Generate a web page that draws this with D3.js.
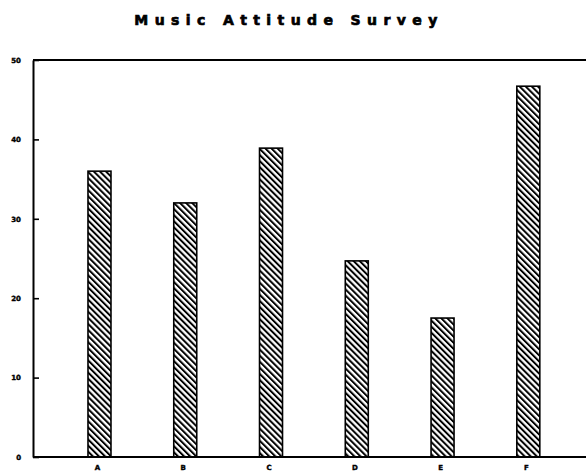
<!DOCTYPE html>
<html>
<head>
<meta charset="utf-8">
<script src="https://cdn.jsdelivr.net/npm/d3@7"></script>
<style>
  body { margin: 0; background: #fff; }
  text { font-family: "DejaVu Sans", Arial, sans-serif; font-weight: bold; fill: #000; }
</style>
</head>
<body>
<div id="chart"></div>
<script>
// data
var categories = ["A", "B", "C", "D", "E", "F"];
var values = [36, 32, 38.9, 24.7, 17.5, 46.7];
var yTicks = [0, 10, 20, 30, 40, 50];

var svgWidth = 586;
var svgHeight = 473;

var svg = d3.select("#chart")
  .append("svg")
  .attr("width", svgWidth)
  .attr("height", svgHeight);

// hatch fill
var defs = svg.append("defs");
defs.append("pattern")
  .attr("id", "hatch")
  .attr("patternUnits", "userSpaceOnUse")
  .attr("width", 4.3)
  .attr("height", 10)
  .attr("patternTransform", "rotate(-45)")
  .append("line")
  .attr("x1", 1).attr("y1", 0)
  .attr("x2", 1).attr("y2", 10)
  .attr("stroke", "#000")
  .attr("stroke-width", 2);

var axisX = 33;
var plotTop = 60;
var plotBottom = 457;

var x = d3.scaleBand()
  .domain(categories)
  .range([56.6, 571.2])
  .paddingInner(0.732)
  .paddingOuter(0.366);

var y = d3.scaleLinear()
  .domain([0, 50])
  .range([plotBottom, plotTop]);

// title
svg.append("text")
  .attr("x", 289)
  .attr("y", 25)
  .attr("text-anchor", "middle")
  .attr("font-size", 14)
  .attr("letter-spacing", 6.4)
  .attr("stroke", "#000")
  .attr("stroke-width", 0.7)
  .text("Music Attitude Survey");

// frame lines
svg.append("line")
  .attr("x1", axisX).attr("x2", svgWidth)
  .attr("y1", plotTop).attr("y2", plotTop)
  .attr("stroke", "#000").attr("stroke-width", 2);
svg.append("line")
  .attr("x1", axisX).attr("x2", svgWidth)
  .attr("y1", plotBottom).attr("y2", plotBottom)
  .attr("stroke", "#000").attr("stroke-width", 2);

// y axis
var leftAxis = d3.axisLeft(y)
  .tickValues(yTicks)
  .tickSizeInner(-6)
  .tickSizeOuter(0)
  .tickPadding(12)
  .tickFormat(d3.format("d"));

var yAxisG = svg.append("g")
  .attr("transform", `translate(${axisX}, 0)`)
  .call(leftAxis);
yAxisG.select(".domain").attr("stroke", "#000").attr("stroke-width", 2);
yAxisG.selectAll(".tick line").attr("stroke", "#000").attr("stroke-width", 1.6);
yAxisG.selectAll(".tick text")
  .attr("fill", "#000")
  .attr("stroke", "#000")
  .attr("stroke-width", 0.4)
  .attr("font-size", 7)
  .attr("font-family", "DejaVu Sans, Arial, sans-serif")
  .attr("font-weight", "bold");

// bars
svg.selectAll("rect.bar")
  .data(values)
  .enter()
  .append("rect")
  .attr("class", "bar")
  .attr("x", (d, i) => x(categories[i]))
  .attr("y", d => y(d))
  .attr("width", x.bandwidth())
  .attr("height", d => plotBottom - y(d))
  .attr("fill", "url(#hatch)")
  .attr("stroke", "#000")
  .attr("stroke-width", 1.6);

// category labels
var bottomAxis = d3.axisBottom(x).tickSize(0).tickPadding(8);
var xAxisG = svg.append("g")
  .attr("transform", `translate(-2, ${plotBottom})`)
  .call(bottomAxis);
xAxisG.select(".domain").remove();
xAxisG.selectAll(".tick text")
  .attr("fill", "#000")
  .attr("stroke", "#000")
  .attr("stroke-width", 0.4)
  .attr("font-size", 7)
  .attr("font-family", "DejaVu Sans, Arial, sans-serif")
  .attr("font-weight", "bold");
</script>
</body>
</html>
